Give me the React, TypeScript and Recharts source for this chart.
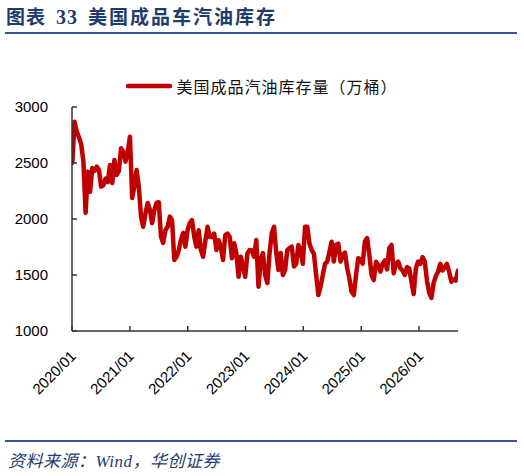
import React from 'react';
import { LineChart, Line, XAxis, YAxis, Legend } from 'recharts';

const titleLabel = '图表';
const titleNumber = '33';
const titleText = '美国成品车汽油库存';
const seriesName = '美国成品汽油库存量（万桶）';
const sourceText = '资料来源：Wind，华创证券';

// weekly series sampled every two weeks, starting first Friday of 2020
const startDate = '2020-01-03';
const stepDays = 14;
const values = [
  2500, 2869, 2780, 2730, 2670, 2512, 2054, 2423, 2244, 2455,
  2430, 2467, 2440, 2289, 2300, 2360, 2330, 2482, 2321, 2527,
  2393, 2430, 2631, 2600, 2512, 2600, 2735, 2188, 2289, 2438,
  2289, 2021, 1931, 2050, 2143, 2080, 1964, 2080, 2143, 2150,
  1842, 1786, 1900, 1931, 2021, 1990, 1634, 1660, 1720, 1813,
  1875, 1753, 1900, 1964, 1991, 1842, 1753, 1900, 1723, 1663,
  1800, 1931, 1840, 1840, 1870, 1723, 1810, 1750, 1634, 1857,
  1870, 1840, 1650, 1783, 1693, 1485, 1663, 1575, 1485, 1693,
  1723, 1720, 1663, 1813, 1396, 1634, 1696, 1500, 1428, 1700,
  1875, 1931, 1700, 1545, 1696, 1500, 1545, 1723, 1740, 1753,
  1575, 1600, 1768, 1723, 1600, 1931, 1931, 1780, 1723, 1690,
  1500, 1321, 1396, 1500, 1600, 1620, 1708, 1797, 1620, 1770,
  1780, 1620, 1680, 1700, 1560, 1470, 1350, 1321, 1500, 1650,
  1640, 1600, 1800, 1830, 1679, 1500, 1455, 1619, 1589, 1530,
  1600, 1630, 1550, 1741, 1768, 1515, 1600, 1620, 1560, 1540,
  1500, 1570, 1560, 1440, 1330, 1560, 1620, 1600, 1660, 1620,
  1450, 1340, 1295, 1430, 1490, 1530, 1600, 1540, 1570, 1600,
  1530, 1440, 1460, 1450, 1540,
];
const yTicks = [1000, 1500, 2000, 2500, 3000];
const tickYears = [2020, 2021, 2022, 2023, 2024, 2025, 2026];

const DAY = 86400000;
const origin = Date.UTC(2020, 0, 1);
const start = Date.parse(startDate + 'T00:00:00Z');
const data = values.map((v, i) => ({ day: (start - origin) / DAY + i * stepDays, value: v }));
const xTicks = tickYears.map((y) => (Date.UTC(y, 0, 1) - origin) / DAY);
const lastDay = data[data.length - 1].day;

const fmtX = (d: number) => {
  const idx = xTicks.indexOf(d);
  return idx >= 0 ? `${tickYears[idx]}/01` : '';
};

const XTick = (props: any) => {
  const { x, y, payload } = props;
  const tx = x + 5;
  return (
    <text
      x={tx}
      y={y}
      transform={`rotate(-45 ${tx} ${y})`}
      textAnchor="end"
      fontSize={15}
      fontFamily="'Liberation Sans', Arial, sans-serif"
      fill="#000"
    >
      {fmtX(payload.value)}
    </text>
  );
};

const renderLegend = () => (
  <div style={{ display: 'flex', justifyContent: 'center', alignItems: 'center', height: 20 }}>
    <svg width={46} height={10} style={{ display: 'block' }}>
      <line x1={2} x2={44} y1={5} y2={5} stroke="#C00000" strokeWidth={4.5} strokeLinecap="round" />
    </svg>
    <span
      style={{
        marginLeft: 4,
        fontSize: 16,
        letterSpacing: 1,
        lineHeight: '20px',
        fontFamily: "'Noto Sans CJK SC', sans-serif",
        color: '#111',
      }}
    >
      {seriesName}
    </span>
  </div>
);

export default function App() {
  const blue = '#2F5597';
  const navy = '#1F3C6E';
  return (
    <div style={{ position: 'absolute', left: 0, top: 0, width: 524, height: 476, background: '#fff', overflow: 'hidden' }}>
      <div
        style={{
          position: 'absolute',
          left: 6,
          top: 3,
          height: 26,
          lineHeight: '26px',
          fontSize: 19,
          fontWeight: 700,
          color: navy,
          fontFamily: "'Noto Sans CJK SC', sans-serif",
          whiteSpace: 'pre',
          letterSpacing: 1,
        }}
      >
        <span>{titleLabel}</span>
        <span style={{ marginLeft: 10, fontFamily: "'Liberation Serif', serif", fontSize: 20 }}>{titleNumber}</span>
        <span style={{ marginLeft: 10, letterSpacing: 2 }}>{titleText}</span>
      </div>
      <div style={{ position: 'absolute', left: 5, top: 32, width: 512, height: 2, background: blue }} />

      <div style={{ position: 'absolute', left: 0, top: 0 }}>
        <LineChart width={524} height={476} data={data} margin={{ top: 107, right: 66, bottom: 0, left: 12 }}>
          <XAxis
            dataKey="day"
            type="number"
            domain={[0, lastDay]}
            ticks={xTicks}
            interval={0}
            height={145}
            tickSize={-5}
            tickMargin={31}
            tick={<XTick />}
            axisLine={{ stroke: '#333', strokeWidth: 1.5 }}
            tickLine={{ stroke: '#333', strokeWidth: 1.5 }}
            allowDataOverflow
          />
          <YAxis
            type="number"
            domain={[1000, 3000]}
            ticks={yTicks}
            interval={0}
            width={60}
            tickSize={-5}
            tickMargin={29}
            axisLine={{ stroke: '#333', strokeWidth: 1.5 }}
            tickLine={{ stroke: '#333', strokeWidth: 1.5 }}
            tick={{ fontSize: 15, fill: '#000', fontFamily: "'Liberation Sans', Arial, sans-serif" }}
          />
          <Legend
            verticalAlign="middle"
            align="center"
            content={renderLegend}
            wrapperStyle={{ top: 76, left: 0, width: 524 }}
          />
          <Line
            type="linear"
            dataKey="value"
            name={seriesName}
            stroke="#C00000"
            strokeWidth={4.5}
            dot={false}
            isAnimationActive={false}
            strokeLinejoin="round"
            strokeLinecap="round"
          />
        </LineChart>
      </div>

      <div style={{ position: 'absolute', left: 5, top: 440, width: 512, height: 2, background: blue }} />
      <div
        style={{
          position: 'absolute',
          left: 8,
          top: 451,
          fontSize: 17,
          letterSpacing: 0.5,
          lineHeight: '22px',
          fontStyle: 'italic',
          color: navy,
          fontFamily: "'Liberation Serif', 'Noto Sans CJK SC', serif",
          whiteSpace: 'pre',
        }}
      >
        {sourceText}
      </div>
    </div>
  );
}
